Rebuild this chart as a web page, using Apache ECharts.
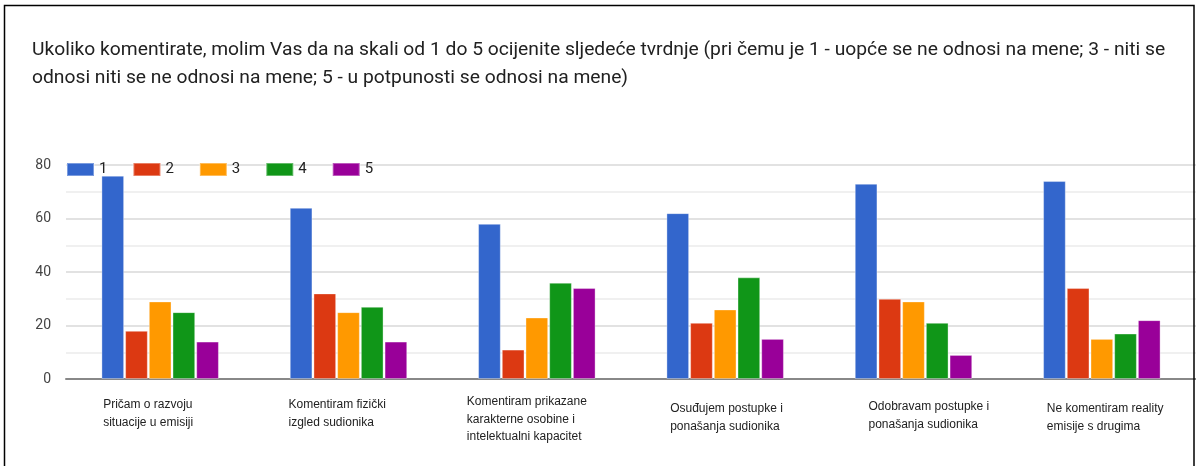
<!DOCTYPE html>
<html>
<head>
<meta charset="utf-8">
<script src="https://cdn.jsdelivr.net/npm/echarts@6/dist/echarts.min.js"></script>
<style>
  html, body { margin: 0; padding: 0; background: #fff; }
  #chart { width: 1196px; height: 466px; }
</style>
</head>
<body>
<div id="chart"></div>
<script>
const categories = [
  'Pričam o razvoju\nsituacije u emisiji',
  'Komentiram fizički\nizgled sudionika',
  'Komentiram prikazane\nkarakterne osobine i\nintelektualni kapacitet',
  'Osuđujem postupke i\nponašanja sudionika',
  'Odobravam postupke i\nponašanja sudionika',
  'Ne komentiram reality\nemisije s drugima'
];
const seriesNames = ['1', '2', '3', '4', '5'];
const values1 = [76, 64, 58, 62, 73, 74];
const values2 = [18, 32, 11, 21, 30, 34];
const values3 = [29, 25, 23, 26, 29, 15];
const values4 = [25, 27, 36, 38, 21, 17];
const values5 = [14, 14, 34, 15, 9, 22];
const yTicks = [0, 20, 40, 60, 80];

const colors = ['#3366cc', '#dc3912', '#ff9900', '#109618', '#990099'];
// label placement per category (px left of band center, px down)
const labelShift = [57, 60, 70, 55, 45, 55];
const labelDrop = [3, 3, 0, 7, 5, 7];

const rich = {};
labelShift.forEach((w, i) => {
  rich['c' + i] = {
    width: w,
    align: 'left',
    fontSize: 12,
    lineHeight: 17.5,
    fontFamily: 'Liberation Sans, Arial, sans-serif',
    color: '#222'
  };
});

const chart = echarts.init(document.getElementById('chart'));
const allValues = [values1, values2, values3, values4, values5];

const option = {
  animation: false,
  color: colors,
  title: {
    text: 'Ukoliko komentirate, molim Vas da na skali od 1 do 5 ocijenite sljedeće tvrdnje (pri čemu je 1 - uopće se ne odnosi na mene; 3 - niti se\nodnosi niti se ne odnosi na mene; 5 - u potpunosti se odnosi na mene)',
    left: 32,
    top: 36,
    padding: 0,
    textStyle: {
      fontFamily: 'Roboto',
      fontSize: 19.25,
      fontWeight: 'normal',
      color: '#212121',
      lineHeight: 28
    }
  },
  legend: {
    left: 66,
    top: 162,
    padding: 0,
    icon: 'rect',
    itemWidth: 27,
    itemHeight: 13,
    itemGap: 25,
    textStyle: { fontFamily: 'Roboto', fontSize: 15, color: '#222' },
    data: seriesNames
  },
  grid: {
    left: 66,
    right: 0,
    top: 165,
    bottom: 87,
    containLabel: false
  },
  xAxis: {
    type: 'category',
    data: categories.map((c, i) => ({
      value: c,
      textStyle: { align: 'right', verticalAlign: 'top', padding: [labelDrop[i], 0, 0, 0] }
    })),
    axisTick: { show: false },
    axisLine: { lineStyle: { color: '#888', width: 2 } },
    axisLabel: {
      interval: 0,
      margin: 14,
      align: 'right',
      verticalAlign: 'top',
      formatter: (value, idx) => value.split('\n').map(l => '{c' + idx + '|' + l + '}').join('\n'),
      rich: rich
    }
  },
  yAxis: {
    type: 'value',
    min: yTicks[0],
    max: yTicks[yTicks.length - 1],
    interval: 20,
    axisLine: { show: false },
    axisTick: { show: false },
    axisLabel: {
      margin: 15,
      fontFamily: 'Roboto',
      fontSize: 14,
      color: '#444'
    },
    splitLine: { lineStyle: { color: '#d9d9d9', width: 1.5 } },
    minorTick: { show: false, splitNumber: 2 },
    minorSplitLine: { show: true, lineStyle: { color: '#ececec', width: 1.5 } }
  },
  series: seriesNames.map((name, i) => ({
    name: name,
    type: 'bar',
    data: allValues[i],
    barWidth: 22.7,
    barGap: '4.4%',
    itemStyle: {
      color: colors[i],
      borderColor: 'rgba(255,255,255,0.35)',
      borderWidth: 1
    }
  })),
  graphic: [{
    type: 'rect',
    shape: { x: 4.5, y: 5.5, width: 1189.5, height: 500 },
    style: { fill: 'none', stroke: '#000', lineWidth: 1.5 },
    silent: true,
    z: 100
  }]
};

chart.setOption(option);
window.addEventListener('resize', () => chart.resize());
</script>
</body>
</html>
